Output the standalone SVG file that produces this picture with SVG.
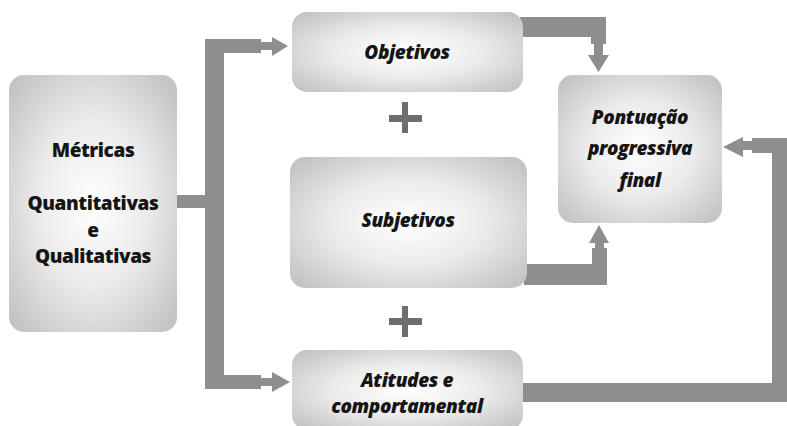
<svg xmlns="http://www.w3.org/2000/svg" width="787" height="426" viewBox="0 0 787 426">
  <defs>
    <radialGradient id="boxGrad" cx="0.5" cy="0.5" r="0.65">
      <stop offset="0" stop-color="#ffffff"/>
      <stop offset="0.5" stop-color="#ebebeb"/>
      <stop offset="1" stop-color="#c4c4c4"/>
    </radialGradient>
  </defs>
  <style>
    .box { fill: url(#boxGrad); }
    .conn { fill: #8e8e8e; }
    .plus { fill: #6e6e6e; }
    .t { font-family: "Open Sans", "Liberation Sans", sans-serif; font-weight: 800; font-size: 19px; letter-spacing: -0.4px; fill: #151515; text-anchor: middle; }
    .ti { font-style: italic; }
  </style>
  <rect width="787" height="426" fill="#ffffff"/>

  <g id="connectors">
    <!-- trunk from Métricas -->
    <rect class="conn" x="177" y="195" width="29" height="13"/>
    <rect class="conn" x="205" y="39" width="19" height="350"/>
    <!-- to Objetivos -->
    <rect class="conn" x="205" y="39" width="56" height="14"/>
    <rect class="conn" x="260" y="42" width="13" height="8"/>
    <polygon class="conn" points="272,37 288,46 272,56"/>
    <!-- to Atitudes -->
    <rect class="conn" x="205" y="375" width="56" height="14"/>
    <rect class="conn" x="260" y="378" width="13" height="8"/>
    <polygon class="conn" points="272,372 290,382 272,392"/>
    <!-- Objetivos to Pontuação -->
    <rect class="conn" x="520" y="17" width="86" height="20"/>
    <rect class="conn" x="591" y="36" width="15" height="8"/>
    <rect class="conn" x="594" y="43" width="9" height="13"/>
    <polygon class="conn" points="588,55 609,55 598.5,72"/>
    <!-- Subjetivos to Pontuação -->
    <rect class="conn" x="524" y="264" width="83" height="21"/>
    <rect class="conn" x="592" y="248" width="15" height="17"/>
    <rect class="conn" x="595" y="242" width="9" height="7"/>
    <polygon class="conn" points="589,243 609,243 599,225"/>
    <!-- Atitudes to Pontuação -->
    <rect class="conn" x="520" y="383" width="267" height="19"/>
    <rect class="conn" x="772" y="138" width="15" height="264"/>
    <rect class="conn" x="752" y="138" width="35" height="15"/>
    <rect class="conn" x="742" y="141" width="11" height="9"/>
    <polygon class="conn" points="743,137 743,157 723,147"/>
  </g>

  <g id="metricas">
    <rect class="box" x="9" y="75" width="168" height="257" rx="15"/>
    <text class="t" x="93" y="157">Métricas</text>
    <text class="t" x="93" y="210">Quantitativas</text>
    <text class="t" x="93" y="237">e</text>
    <text class="t" x="93" y="263">Qualitativas</text>
  </g>

  <g id="objetivos">
    <rect class="box" x="292" y="12" width="231" height="80" rx="15"/>
    <text class="t ti" x="407" y="59">Objetivos</text>
  </g>

  <g id="plus1">
    <rect class="plus" x="389" y="115" width="33" height="7"/>
    <rect class="plus" x="402" y="102" width="6" height="31"/>
  </g>

  <g id="subjetivos">
    <rect class="box" x="290" y="157" width="237" height="131" rx="15"/>
    <text class="t ti" x="408" y="227">Subjetivos</text>
  </g>

  <g id="plus2">
    <rect class="plus" x="389" y="318" width="33" height="7"/>
    <rect class="plus" x="402" y="306" width="6" height="31"/>
  </g>

  <g id="atitudes">
    <rect class="box" x="292" y="350" width="231" height="80" rx="15"/>
    <text class="t ti" x="407" y="387">Atitudes e</text>
    <text class="t ti" x="407" y="413">comportamental</text>
  </g>

  <g id="pontuacao">
    <rect class="box" x="558" y="75" width="164" height="148" rx="15"/>
    <text class="t ti" x="640" y="124">Pontuação</text>
    <text class="t ti" x="640" y="155">progressiva</text>
    <text class="t ti" x="640" y="187">final</text>
  </g>
</svg>
